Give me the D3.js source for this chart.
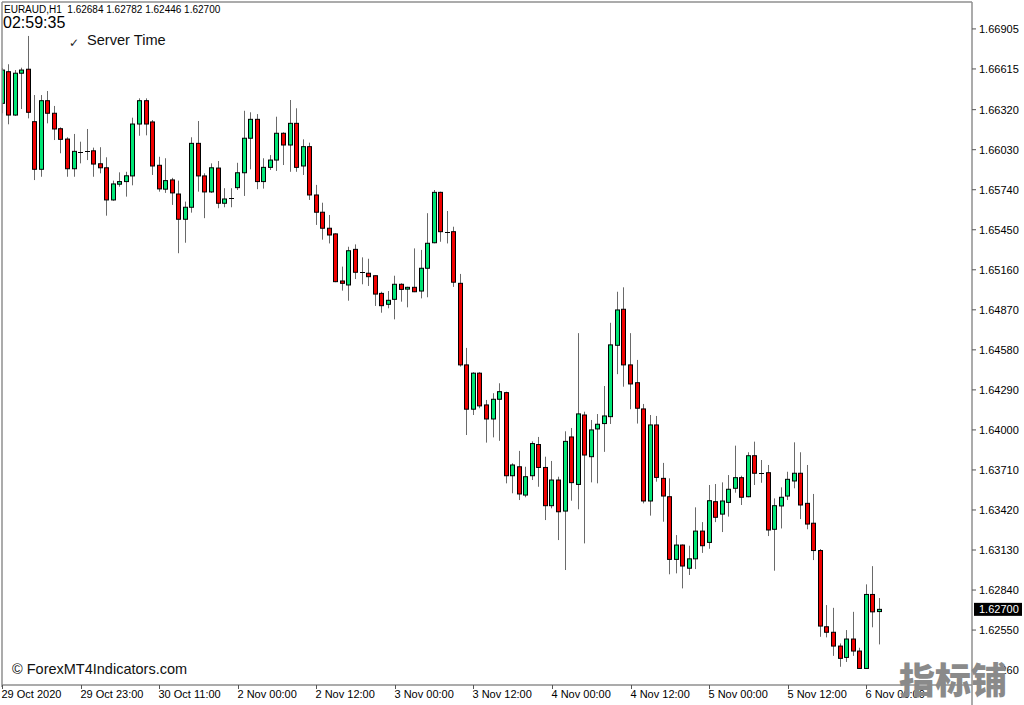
<!DOCTYPE html>
<html><head><meta charset="utf-8">
<script src="https://cdn.jsdelivr.net/npm/d3@7"></script>
<style>html,body{margin:0;padding:0;background:#fff;overflow:hidden}</style>
</head><body><svg id="c" width="1024" height="705"></svg>
<script>
const symbol = "EURAUD,H1";
const clockText = "02:59:35";
const serverLabel = "Server Time";
const copyright = "\u00A9 ForexMT4Indicators.com";
const watermark = "指标铺";

const opens = [1.66366,1.66595,1.66281,1.66584,1.66613,1.66233,1.65888,1.66385,1.66294,1.66182,
1.66107,1.65892,1.66015,1.66022,1.66022,1.65928,1.65899,1.65666,1.65780,1.65799,
1.65840,1.66216,1.66385,1.66231,1.65917,1.65744,1.65811,1.65709,1.65526,1.65613,
1.66076,1.65840,1.65724,1.65897,1.65642,1.65678,1.65755,1.65863,1.66113,1.66250,
1.65799,1.65902,1.65955,1.66149,1.66064,1.66221,1.65912,1.66052,1.65702,1.65577,
1.65461,1.65420,1.65079,1.65050,1.65308,1.65144,1.65135,1.65117,1.64989,1.64910,
1.64946,1.65055,1.65020,1.65033,1.65006,1.65171,1.65356,1.65721,1.65436,1.65436,
1.65062,1.64471,1.64150,1.64411,1.64181,1.64079,1.64222,1.64270,1.63668,1.63733,
1.63528,1.63668,1.63894,1.63728,1.63451,1.63637,1.63412,1.63949,1.63605,1.64108,
1.63806,1.64007,1.64046,1.64096,1.64613,1.64874,1.64471,1.64342,1.64152,1.63485,
1.64036,1.63649,1.63516,1.63062,1.63166,1.62998,1.63066,1.63267,1.63185,1.63480,
1.63390,1.63475,1.63577,1.63654,1.63516,1.63813,1.63690,1.63690,1.63280,1.63449,
1.63521,1.63630,1.63686,1.63468,1.63324,1.63126,1.62574,1.62534,1.62434,1.62352,
1.62485,1.62398,1.62272,1.62808,1.62684];
const highs = [1.66622,1.66649,1.66607,1.66624,1.66854,1.66426,1.66426,1.66455,1.66347,1.66192,
1.66120,1.66144,1.66088,1.66180,1.66045,1.66048,1.65975,1.65806,1.65866,1.65870,
1.66262,1.66402,1.66402,1.66245,1.65979,1.65968,1.65826,1.65806,1.65654,1.66120,
1.66238,1.65859,1.65931,1.65948,1.65751,1.65751,1.65935,1.66312,1.66301,1.66288,
1.65968,1.65991,1.66269,1.66156,1.66390,1.66330,1.66105,1.66081,1.65775,1.65646,
1.65557,1.65425,1.65183,1.65327,1.65344,1.65250,1.65240,1.65120,1.65001,1.65006,
1.65117,1.65062,1.65037,1.65315,1.65304,1.65570,1.65738,1.65726,1.65586,1.65472,
1.65130,1.64594,1.64418,1.64418,1.64217,1.64266,1.64338,1.64277,1.63758,1.63848,
1.63733,1.63917,1.63949,1.63806,1.63775,1.63661,1.63990,1.64014,1.64701,1.64132,
1.64072,1.64115,1.64318,1.64776,1.65001,1.65033,1.64701,1.64507,1.64188,1.64108,
1.64101,1.63761,1.63649,1.63238,1.63170,1.63161,1.63439,1.63332,1.63601,1.63608,
1.63620,1.63673,1.63886,1.63668,1.63838,1.63915,1.63782,1.63746,1.63504,1.63584,
1.63697,1.63910,1.63838,1.63746,1.63536,1.63137,1.62731,1.62711,1.62453,1.62550,
1.62682,1.62422,1.62881,1.63013,1.62782];
const lows = [1.66294,1.66214,1.66275,1.66325,1.66257,1.65810,1.65834,1.66221,1.66100,1.66004,
1.65834,1.65834,1.65931,1.65955,1.65834,1.65859,1.65552,1.65660,1.65762,1.65690,
1.65772,1.66131,1.66134,1.65847,1.65726,1.65717,1.65630,1.65280,1.65356,1.65574,
1.65726,1.65534,1.65717,1.65606,1.65613,1.65613,1.65738,1.65695,1.65888,1.65744,
1.65748,1.65883,1.65876,1.65919,1.65870,1.65870,1.65847,1.65666,1.65485,1.65378,
1.65351,1.65070,1.65009,1.64936,1.65093,1.65055,1.65043,1.64898,1.64849,1.64881,
1.64801,1.64929,1.64888,1.64998,1.64953,1.64961,1.65352,1.65363,1.65351,1.65036,
1.64459,1.63963,1.64108,1.64157,1.63908,1.63946,1.63921,1.63613,1.63541,1.63492,
1.63512,1.63637,1.63588,1.63347,1.63432,1.63202,1.62985,1.63487,1.63425,1.63178,
1.63620,1.63613,1.63841,1.64043,1.64404,1.64313,1.64150,1.64046,1.63468,1.63379,
1.63625,1.63335,1.62954,1.62961,1.62852,1.62949,1.62992,1.63109,1.63139,1.63332,
1.63260,1.63372,1.63545,1.63456,1.63512,1.63601,1.63617,1.63231,1.62980,1.63286,
1.63492,1.63577,1.63354,1.63280,1.63057,1.62501,1.62497,1.62363,1.62284,1.62319,
1.62363,1.62272,1.62270,1.62570,1.62446];
const closes = [1.66607,1.66281,1.66584,1.66607,1.66301,1.65888,1.66385,1.66294,1.66180,1.66105,
1.65892,1.66018,1.66015,1.66022,1.65926,1.65899,1.65666,1.65782,1.65799,1.65841,
1.66216,1.66385,1.66216,1.65912,1.65746,1.65806,1.65717,1.65526,1.65613,1.66076,
1.65840,1.65724,1.65899,1.65642,1.65673,1.65678,1.65863,1.66113,1.66250,1.65799,
1.65902,1.65955,1.66149,1.66064,1.66221,1.65902,1.66052,1.65702,1.65577,1.65461,
1.65412,1.65074,1.65062,1.65298,1.65142,1.65144,1.65110,1.64984,1.64900,1.64939,
1.65055,1.65018,1.65033,1.65001,1.65171,1.65352,1.65721,1.65436,1.65436,1.65070,
1.64471,1.64150,1.64411,1.64174,1.64079,1.64222,1.64277,1.63668,1.63746,1.63536,
1.63661,1.63901,1.63728,1.63451,1.63637,1.63407,1.63917,1.63618,1.64116,1.63818,
1.64000,1.64041,1.64101,1.64616,1.64869,1.64471,1.64333,1.64157,1.63485,1.64036,
1.63656,1.63521,1.63062,1.63166,1.63014,1.63066,1.63267,1.63161,1.63487,1.63367,
1.63485,1.63570,1.63654,1.63512,1.63813,1.63686,1.63690,1.63275,1.63451,1.63512,
1.63642,1.63686,1.63456,1.63318,1.63126,1.62579,1.62534,1.62434,1.62345,1.62485,
1.62398,1.62272,1.62808,1.62682,1.62700];

const priceTicks = ["1.66905","1.66615","1.66320","1.66030","1.65740","1.65450","1.65160","1.64870",
"1.64580","1.64290","1.64000","1.63710","1.63420","1.63130","1.62840","1.62550","1.62260"];
const timeTickBars = [0,12,24,36,48,60,72,84,96,108,120,132];
const timeTickLabels = ["29 Oct 2020","29 Oct 23:00","30 Oct 11:00","2 Nov 00:00","2 Nov 12:00","3 Nov 00:00",
"3 Nov 12:00","4 Nov 00:00","4 Nov 12:00","5 Nov 00:00","5 Nov 12:00","6 Nov 00:00"];

const FONT = "'Liberation Sans', Arial, sans-serif";
const svg = d3.select("#c");
const L = 2, T = 2, R = 972, B = 685;
const n = opens.length;
const x = d3.scaleLinear().domain([0, n - 1]).range([2, 879.3]);
const y = d3.scaleLinear().domain([1.62152, 1.67100]).range([B, T]);

const bars = d3.range(n).map(i => ({i, o: opens[i], h: highs[i], l: lows[i], c: closes[i]}));

svg.append("defs").append("clipPath").attr("id", "clip")
  .append("rect").attr("x", L).attr("y", T).attr("width", R - L).attr("height", B - T);

const g = svg.append("g").attr("clip-path", "url(#clip)");
const bull = "#00e676", bear = "#f00000";

const cg = g.selectAll("g.bar").data(bars).join("g").attr("class", "bar");
cg.append("line")
  .attr("x1", d => Math.round(x(d.i) - 2.5) + 2.5)
  .attr("x2", d => Math.round(x(d.i) - 2.5) + 2.5)
  .attr("y1", d => y(d.h)).attr("y2", d => y(d.l))
  .attr("stroke", "#6a6a6a").attr("stroke-width", 1);
cg.filter(d => d.o !== d.c).append("rect")
  .attr("x", d => Math.round(x(d.i) - 2.5) + 0.5)
  .attr("width", 4)
  .attr("y", d => Math.min(y(d.o), y(d.c)))
  .attr("height", d => Math.max(Math.abs(y(d.o) - y(d.c)), 1))
  .attr("fill", d => d.c > d.o ? bull : bear)
  .attr("stroke", "#000").attr("stroke-width", 1);
cg.filter(d => d.o === d.c).append("line")
  .attr("x1", d => Math.round(x(d.i) - 2.5))
  .attr("x2", d => Math.round(x(d.i) - 2.5) + 5)
  .attr("y1", d => Math.round(y(d.o)) + 0.5).attr("y2", d => Math.round(y(d.o)) + 0.5)
  .attr("stroke", "#000").attr("stroke-width", 1);

// frame
const frameColor = "#8f8f8f";
svg.append("line").attr("x1", L).attr("x2", L).attr("y1", T).attr("y2", B + 2).attr("stroke", frameColor).attr("stroke-width", 1.5);
svg.append("line").attr("x1", L).attr("x2", R).attr("y1", T).attr("y2", T).attr("stroke", frameColor).attr("stroke-width", 1.5);
svg.append("line").attr("x1", R).attr("x2", R).attr("y1", T).attr("y2", 705).attr("stroke", frameColor).attr("stroke-width", 1.5);
svg.append("line").attr("x1", L).attr("x2", R).attr("y1", B).attr("y2", B).attr("stroke", frameColor).attr("stroke-width", 1.5);

// price axis
const pa = svg.append("g");
priceTicks.forEach(t => {
  const yy = y(+t);
  pa.append("line").attr("x1", R).attr("x2", R + 4).attr("y1", yy).attr("y2", yy).attr("stroke", "#555");
  pa.append("text").attr("x", 979).attr("y", yy + 4).attr("font-family", FONT).attr("font-size", 11)
    .attr("fill", "#000").text(t);
});
// current price label
const cp = closes[n - 1];
const cy = y(cp);
svg.append("rect").attr("x", 974).attr("y", cy - 6.5).attr("width", 48).attr("height", 13).attr("fill", "#000");
svg.append("text").attr("x", 979).attr("y", cy + 4).attr("font-family", FONT).attr("font-size", 11)
  .attr("fill", "#fff").text(cp.toFixed(5));

// time axis
const ta = svg.append("g");
timeTickBars.forEach((b, k) => {
  const xx = Math.round(x(b)) + 0.5;
  ta.append("line").attr("x1", xx).attr("x2", xx).attr("y1", B).attr("y2", B + 4).attr("stroke", "#555");
  ta.append("text").attr("x", xx - 1).attr("y", 698).attr("font-family", FONT).attr("font-size", 11)
    .attr("fill", "#000").text(timeTickLabels[k]);
});

// header texts
const last = bars[n - 1];
svg.append("text").attr("x", 4).attr("y", 13).attr("font-family", FONT).attr("font-size", 10).attr("fill", "#000")
  .attr("xml:space", "preserve")
  .text(symbol + "  " + [last.o, last.h, last.l, last.c].map(v => v.toFixed(5)).join(" "));
svg.append("text").attr("x", 3).attr("y", 28).attr("font-family", FONT).attr("font-size", 16).attr("fill", "#000")
  .text(clockText);
svg.append("text").attr("x", 69).attr("y", 47).attr("font-family", "'DejaVu Sans', sans-serif").attr("font-size", 12).attr("fill", "#222")
  .text("\u2713");
svg.append("text").attr("x", 87).attr("y", 44.5).attr("font-family", FONT).attr("font-size", 14.6).attr("fill", "#111")
  .text(serverLabel);
svg.append("text").attr("x", 12).attr("y", 674).attr("font-family", FONT).attr("font-size", 14.5).attr("fill", "#111")
  .text(copyright);

// watermark: in the reference it hides most of the lowest price label
svg.append("rect").attr("x", 975).attr("y", 662).attr("width", 29).attr("height", 16).attr("fill", "#fff");
svg.append("text").attr("x", 899).attr("y", 694).attr("font-family", "'Noto Sans CJK SC', sans-serif")
  .attr("font-weight", 900).attr("font-size", 36).attr("fill", "#8a8a8a").text(watermark);
</script></body></html>
